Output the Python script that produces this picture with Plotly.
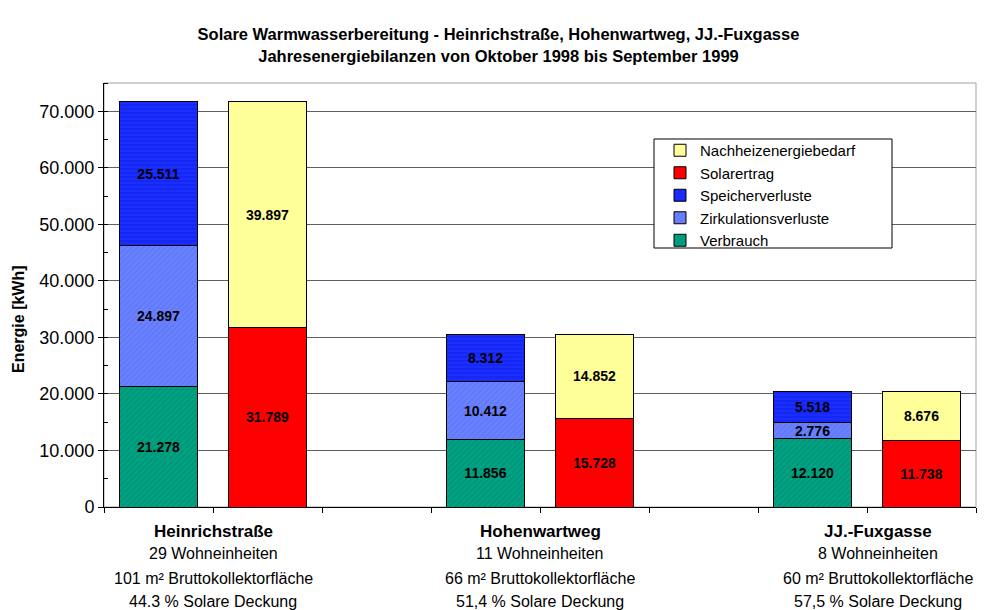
import plotly.graph_objects as go

# Annual energy balances (kWh), October 1998 - September 1999
sites = ["Heinrichstraße", "Hohenwartweg", "JJ.-Fuxgasse"]
units = ["29 Wohneinheiten", "11 Wohneinheiten", "8 Wohneinheiten"]
areas = ["101 m² Bruttokollektorfläche", "66 m² Bruttokollektorfläche", "60 m² Bruttokollektorfläche"]
coverage = ["44.3 % Solare Deckung", "51,4 % Solare Deckung", "57,5 % Solare Deckung"]

# demand side: consumption + losses
verbrauch = [21278, 11856, 12120]
zirkulation = [24897, 10412, 2776]
speicher = [25511, 8312, 5518]
# supply side: solar yield + auxiliary heating
solarertrag = [31789, 15728, 11738]
nachheizung = [39897, 14852, 8676]

# slot positions on the category axis (8 slots, one empty between sites)
demand_x = [0, 3, 6]
supply_x = [1, 4, 7]

FONT = "Arial, Liberation Sans"

series = [
    ("Verbrauch", demand_x, verbrauch, "#00A383", "/", "#00806A"),
    ("Zirkulationsverluste", demand_x, zirkulation, "#6B82FF", "/", "#5068F0"),
    ("Speicherverluste", demand_x, speicher, "#1A2EFF", "-", "#0818DD"),
    ("Solarertrag", supply_x, solarertrag, "#FF0000", "", None),
    ("Nachheizenergiebedarf", supply_x, nachheizung, "#FFFF99", "", None),
]

fig = go.Figure()
for name, xs, vals, color, shape, fg in series:
    pattern = dict(shape=shape, fgcolor=fg, size=4, solidity=0.35) if shape else dict(shape="")
    fig.add_trace(go.Bar(
        name=name, x=xs, y=vals, width=0.72,
        marker=dict(color=color, line=dict(color="#000000", width=1), pattern=pattern),
        text=vals, texttemplate="<b>%{y:,.0f}</b>", textposition="inside",
        insidetextanchor="middle", textangle=0, constraintext="none",
        textfont=dict(family=FONT, size=14, color="#000000"),
        hoverinfo="skip",
    ))

# plot area geometry in pixels
px0, py0, pw, ph = 104, 83, 872, 424

fig.update_layout(
    width=1001, height=610,
    margin=dict(l=px0, r=1001 - px0 - pw, t=py0, b=610 - py0 - ph),
    barmode="stack",
    separators=",.",
    plot_bgcolor="#FFFFFF", paper_bgcolor="#FFFFFF",
    font=dict(family=FONT, color="#000000"),
    title=dict(
        text="<b>Solare Warmwasserbereitung - Heinrichstraße, Hohenwartweg, JJ.-Fuxgasse<br>"
             "Jahresenergiebilanzen von Oktober 1998 bis September 1999</b>",
        x=0.498, xanchor="center", y=0.934, yanchor="middle",
        font=dict(size=16.5, family=FONT),
    ),
    legend=dict(
        x=(660 - px0) / pw, y=(py0 + ph - 134) / ph, xanchor="left", yanchor="top",
        traceorder="reversed",
        bgcolor="rgba(0,0,0,0)", borderwidth=0,
        font=dict(size=15, family=FONT),
        itemwidth=30, tracegroupgap=0,
    ),
    showlegend=True,
)

fig.update_xaxes(
    range=[-0.5, 7.5], showgrid=False, zeroline=False,
    tickmode="array", tickvals=[i - 0.5 for i in range(9)],
    showticklabels=False, ticks="outside", ticklen=5, tickcolor="#000000",
    showline=True, linecolor="#000000", linewidth=1,
)
fig.update_yaxes(
    range=[0, 75000], dtick=10000, tickformat=",d",
    showgrid=True, gridcolor="#606060", gridwidth=1, zeroline=False,
    ticks="outside", ticklen=5, tickcolor="#000000",
    minor=dict(dtick=5000, ticks="inside", ticklen=4, tickcolor="#000000", showgrid=False),
    showline=True, linecolor="#000000", linewidth=1,
    tickfont=dict(size=18, family=FONT),
)

# y axis title
fig.add_annotation(x=0, xref="paper", xshift=18 - px0, xanchor="center",
                   y=(py0 + ph - 319) / ph, yref="paper", yanchor="middle",
                   text="<b>Energie [kWh]</b>", textangle=-90, showarrow=False,
                   font=dict(size=16, family=FONT, color="#000000"))

# plot area frame (top and right edges)
fig.add_shape(type="rect", xref="paper", yref="paper", x0=0, y0=0, x1=1, y1=1,
              line=dict(color="#A0A0A0", width=1), layer="below")

# legend frame
fig.add_shape(type="rect", xref="paper", yref="paper",
              x0=(654 - px0) / pw, x1=(892 - px0) / pw,
              y0=(py0 + ph - 248) / ph, y1=(py0 + ph - 139) / ph,
              line=dict(color="#000000", width=1), fillcolor="#FFFFFF", layer="above")

# site descriptions beneath each pair of bars
centres = [0.5, 3.5, 6.6]
for cx, s, u, a, c in zip(centres, sites, units, areas, coverage):
    lines = [("<b>" + s + "</b>", -24, 17), (u, -46, 16), (a, -71, 16), (c, -94, 16)]
    for txt, shift, size in lines:
        fig.add_annotation(x=cx, xref="x", y=0, yref="paper", yanchor="middle",
                           yshift=shift, text=txt, showarrow=False,
                           font=dict(size=size, family=FONT, color="#000000"))

fig.write_html("out.html")
